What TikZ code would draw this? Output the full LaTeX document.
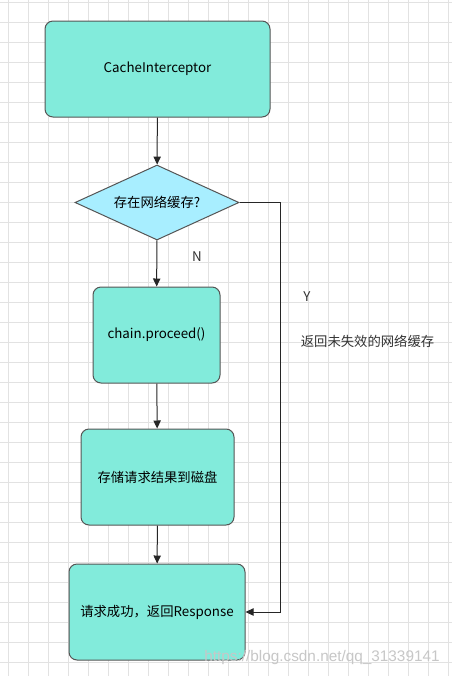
\documentclass[tikz,border=0pt]{standalone}
\usepackage{fontspec}
\setmainfont{Noto Sans CJK SC}
\newfontfamily\markfont{Liberation Sans}
\usepackage{tikz}
\usetikzlibrary{shapes.geometric,arrows.meta}

\definecolor{boxfill}{HTML}{82EBDB}
\definecolor{askfill}{HTML}{A8EEFF}
\definecolor{edge}{HTML}{555555}
\definecolor{gridgray}{HTML}{E2E2E2}

\tikzset{
  stepbox/.style={draw=edge, fill=boxfill, line width=0.75pt, rounded corners=6pt,
    minimum height=72pt, inner sep=2pt, font=\fontsize{10}{12}\selectfont},
  ask/.style={draw=edge, fill=askfill, line width=0.75pt, diamond, aspect=2.19,
    minimum width=123pt, minimum height=56.25pt, inner sep=0pt, font=\fontsize{10}{12}\selectfont},
  flow/.style={draw=black!85, line width=0.75pt, -{Triangle[length=6pt,width=5.5pt]}},
  tag/.style={font=\fontsize{10}{12}\selectfont, text=black!80}
}

\begin{document}
\begin{tikzpicture}[x=0.75pt, y=-0.75pt]
      \useasboundingbox (0,0) rectangle (452,676);
      \fill[white] (0,0) rectangle (452,676);
      \foreach \gx in {8,28,...,448} \draw[gridgray, line width=0.6pt] (\gx,0) -- (\gx,676);
      \foreach \gy in {2.7,22.7,...,672} \draw[gridgray, line width=0.6pt] (0,\gy) -- (452,\gy);

      \node[stepbox, minimum width=168.75pt] (cache) at (157.5, 69) {CacheInterceptor};
      \node[ask] (hascache) at (157, 202.5) {存在网络缓存?};
      \node[stepbox, minimum width=95.25pt] (proceed) at (156.5, 335) {chain.proceed()};
      \node[stepbox, minimum width=114.75pt] (store) at (157.5, 477) {存储请求结果到磁盘};
      \node[stepbox, minimum width=132pt] (done) at (157, 612) {请求成功，返回Response};
      \coordinate (turn) at (280, 202.5);

      \node[tag] (no) at (197, 257) {N};
      \node[tag] (yes) at (307, 297) {Y};
      \node[tag] (usecache) at (367.5, 341) {返回未失效的网络缓存};

      \draw[flow] (cache) -- (hascache);
      \draw[flow] (hascache) -- (proceed);
      \draw[flow] (proceed) -- (store);
      \draw[flow] (store) -- (done);
      \draw[flow] (hascache.east) -- (turn) |- (done.east);

      \node[font=\markfont\fontsize{11.5}{12}\selectfont, text=black!22] (mark) at (322, 658) {https://blog.csdn.net/qq\_31339141};
    \end{tikzpicture}
\end{document}
